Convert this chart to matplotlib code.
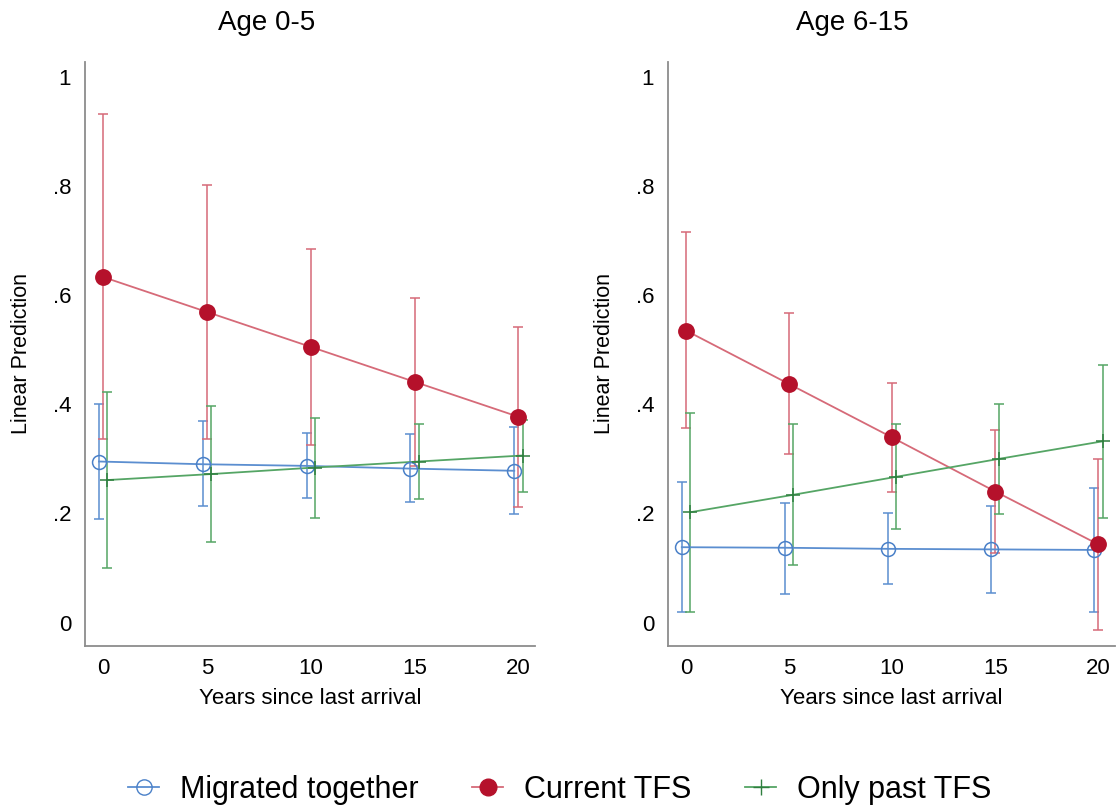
import numpy as np
import matplotlib.pyplot as plt
from matplotlib.lines import Line2D
from matplotlib.ticker import FixedLocator, FuncFormatter

plt.rcParams['font.family'] = ['Liberation Sans', 'DejaVu Sans']

years = np.array([0, 5, 10, 15, 20])
titles = ["Age 0-5", "Age 6-15"]
series_names = ["Migrated together", "Current TFS", "Only past TFS"]

# Age 0-5: point estimate, lower CI, upper CI
mig_05 = [0.295, 0.290, 0.287, 0.282, 0.278]
mig_05_lo = [0.190, 0.213, 0.228, 0.221, 0.198]
mig_05_hi = [0.400, 0.369, 0.347, 0.345, 0.358]
cur_05 = [0.633, 0.569, 0.505, 0.441, 0.377]
cur_05_lo = [0.336, 0.337, 0.325, 0.287, 0.212]
cur_05_hi = [0.931, 0.801, 0.684, 0.594, 0.542]
past_05 = [0.261, 0.272, 0.284, 0.295, 0.306]
past_05_lo = [0.100, 0.147, 0.192, 0.226, 0.239]
past_05_hi = [0.422, 0.397, 0.375, 0.363, 0.371]

# Age 6-15
mig_615 = [0.138, 0.137, 0.135, 0.134, 0.133]
mig_615_lo = [0.020, 0.053, 0.070, 0.055, 0.020]
mig_615_hi = [0.257, 0.219, 0.200, 0.213, 0.246]
cur_615 = [0.535, 0.437, 0.339, 0.240, 0.143]
cur_615_lo = [0.356, 0.309, 0.239, 0.128, -0.014]
cur_615_hi = [0.715, 0.567, 0.439, 0.353, 0.300]
past_615 = [0.202, 0.234, 0.267, 0.300, 0.332]
past_615_lo = [0.020, 0.106, 0.172, 0.199, 0.192]
past_615_hi = [0.383, 0.364, 0.363, 0.400, 0.472]

panels = [
    [(mig_05, mig_05_lo, mig_05_hi), (cur_05, cur_05_lo, cur_05_hi), (past_05, past_05_lo, past_05_hi)],
    [(mig_615, mig_615_lo, mig_615_hi), (cur_615, cur_615_lo, cur_615_hi), (past_615, past_615_lo, past_615_hi)],
]

blue = "#5b8ed0"
blue_mark = "#4a80c8"
red_line = "#d66a78"
red_mark = "#b5112b"
green = "#55a565"
green_mark = "#2f7f3f"
offsets = [-0.2, 0.0, 0.2]

fig = plt.figure(figsize=(11.2, 8.08), dpi=100)
ax_rects = [[0.0759, 0.2005, 0.4018, 0.7228], [0.5964, 0.2005, 0.3991, 0.7228]]
title_x = [267 / 1120, 852 / 1120]
ylab_x = [22 / 1120, 605 / 1120]

def yfmt(v, pos):
    if abs(v) < 1e-9:
        return "0"
    if abs(v - 1) < 1e-9:
        return "1"
    return ("%.1f" % v).lstrip("0")

styles = [
    dict(lc=blue, marker='o', mfc='none', mec=blue_mark, ms=10),
    dict(lc=red_line, marker='o', mfc=red_mark, mec=red_mark, ms=11),
    dict(lc=green, marker='+', mfc=green_mark, mec=green_mark, ms=10),
]

for i, data in enumerate(panels):
    ax = fig.add_axes(ax_rects[i])
    for (est, lo, hi), st, off in zip(data, styles, offsets):
        est = np.array(est); lo = np.array(lo); hi = np.array(hi)
        ax.errorbar(years + off, est, yerr=[est - lo, hi - est], fmt='none',
                    ecolor=st['lc'], elinewidth=1.1, capsize=3.5, capthick=1.1)
    for (est, lo, hi), st, off in zip(data, styles, offsets):
        xs = years + off
        ax.plot(xs, est, color=st['lc'], lw=1.3, zorder=3)
        ax.plot(xs, est, ls='none', marker=st['marker'], mfc=st['mfc'], mec=st['mec'],
                ms=st['ms'], mew=1.1, zorder=4)
    ax.set_xlim(-0.87, 20.8)
    ax.set_ylim(-0.043, 1.027)
    ax.xaxis.set_major_locator(FixedLocator(years))
    ax.yaxis.set_major_locator(FixedLocator([0, 0.2, 0.4, 0.6, 0.8, 1.0]))
    ax.yaxis.set_major_formatter(FuncFormatter(yfmt))
    for s in ['top', 'right']:
        ax.spines[s].set_visible(False)
    for s in ['left', 'bottom']:
        ax.spines[s].set_color("#8c8c8c")
        ax.spines[s].set_linewidth(1.3)
    ax.tick_params(axis='both', length=0, labelsize=16)
    ax.tick_params(axis='x', pad=9)
    ax.tick_params(axis='y', pad=10)
    ax.set_xlabel("Years since last arrival", fontsize=16, labelpad=6)
    fig.text(ylab_x[i], 1 - 354 / 808, "Linear Prediction", rotation=90,
             ha='center', va='center', fontsize=15.5)
    fig.text(title_x[i], 1 - 23 / 808, titles[i], ha='center', va='center', fontsize=20)

handles = [
    Line2D([], [], color=blue, lw=1.3, marker='o', mfc='none', mec=blue_mark, ms=11),
    Line2D([], [], color=red_line, lw=1.3, marker='o', mfc=red_mark, mec=red_mark, ms=12),
    Line2D([], [], color=green, lw=1.3, marker='+', mec=green_mark, ms=12),
]
fig.legend(handles, series_names, loc='center', bbox_to_anchor=(0.5, 1 - 790 / 808),
           ncol=3, frameon=False, fontsize=22, handlelength=1.0, columnspacing=1.75,
           handletextpad=0.7)

fig.savefig("out.png", dpi=100)
